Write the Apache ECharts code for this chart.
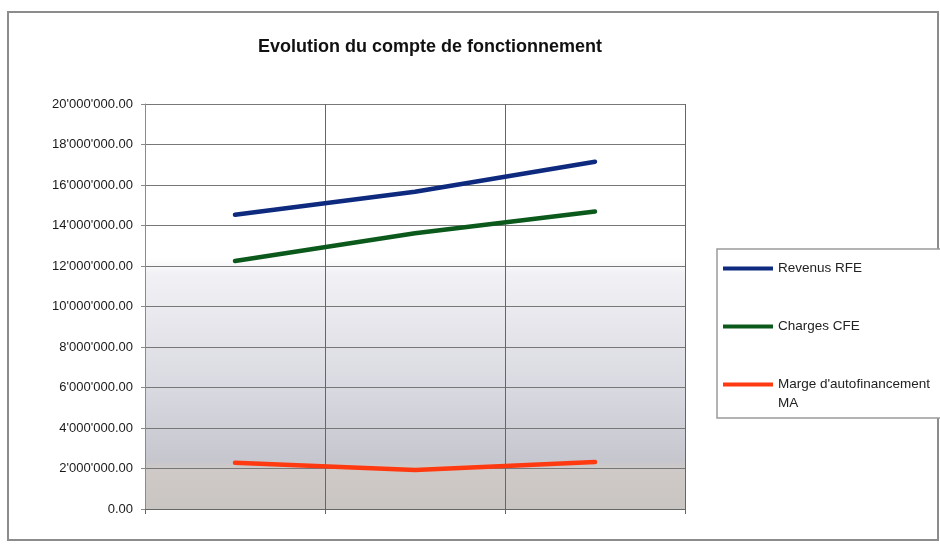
<!DOCTYPE html>
<html>
<head>
<meta charset="utf-8">
<script src="https://cdn.jsdelivr.net/npm/echarts@6/dist/echarts.min.js"></script>
<style>
  html, body { margin: 0; padding: 0; background: #fff; }
  #chart { width: 940px; height: 544px; }
</style>
</head>
<body>
<div id="chart"></div>
<script>
// periods (no labels shown on the axis)
const categories = ["1", "2", "3"];

const revenus = [14530000, 15670000, 17150000];
const charges = [12250000, 13620000, 14690000];
const marge = [2280000, 1920000, 2320000];

const seriesNames = ["Revenus RFE", "Charges CFE", "Marge d'autofinancement MA"];
const seriesColors = ["#0d2a7e", "#0b5a1c", "#ff3a10"];

// 20'000'000.00 style
function fmt(v) {
  const parts = v.toFixed(2).split(".");
  return parts[0].replace(/\B(?=(\d{3})+(?!\d))/g, "'") + "." + parts[1];
}

const chart = echarts.init(document.getElementById("chart"));

const seriesData = [revenus, charges, marge];

chart.setOption({
  animation: false,
  backgroundColor: "#fff",
  textStyle: { fontFamily: "Liberation Sans, Arial, sans-serif" },
  title: {
    text: "Evolution du compte de fonctionnement",
    left: 253,
    top: 33,
    textStyle: { fontSize: 18, fontWeight: "bold", color: "#111" },
  },
  graphic: [
    // outer frame of the chart
    {
      type: "rect",
      shape: { x: 8, y: 12, width: 930, height: 528 },
      style: { fill: "none", stroke: "#8c8c8c", lineWidth: 2 },
      z: -1,
    },
    // legend box
    {
      type: "rect",
      shape: { x: 717, y: 249, width: 230, height: 169 },
      style: { fill: "#fff", stroke: "#9a9a9a", lineWidth: 1.5 },
      z: 0,
    },
    // second line of the third legend entry
    {
      type: "text",
      left: 778,
      top: 396,
      z: 6,
      style: {
        text: "MA",
        fontSize: 13.5,
        fontFamily: "Liberation Sans, Arial, sans-serif",
        fill: "#222",
      },
    },
  ],
  legend: {
    orient: "vertical",
    left: 723,
    top: 261,
    padding: 0,
    itemWidth: 50,
    itemHeight: 4,
    itemGap: 43,
    icon: "rect",
    z: 5,
    formatter: (name) => name.replace(" MA", ""),
    textStyle: { fontSize: 13.5, color: "#222", lineHeight: 15 },
    data: seriesNames,
  },
  grid: {
    left: 145,
    right: 255,
    top: 104,
    bottom: 35,
    show: true,
    borderWidth: 0,
    backgroundColor: {
      type: "linear",
      x: 0, y: 0, x2: 0, y2: 1,
      colorStops: [
        { offset: 0, color: "#ffffff" },
        { offset: 0.38, color: "#ffffff" },
        { offset: 0.42, color: "#f1f1f5" },
        { offset: 0.7, color: "#d9d9e1" },
        { offset: 0.88, color: "#c6c6cf" },
        { offset: 0.9, color: "#cfcac7" },
        { offset: 1, color: "#c9c5c3" },
      ],
    },
  },
  xAxis: {
    type: "category",
    data: categories,
    boundaryGap: true,
    axisLabel: { show: false },
    axisLine: { lineStyle: { color: "#666", width: 1 } },
    axisTick: { show: true, length: 5, lineStyle: { color: "#666" } },
    splitLine: { show: true, lineStyle: { color: "#666", width: 1 } },
  },
  yAxis: {
    type: "value",
    min: 0,
    max: 20000000,
    interval: 2000000,
    axisLine: { show: true, lineStyle: { color: "#8a8a8a", width: 1 } },
    axisTick: { show: true, length: 4, lineStyle: { color: "#8a8a8a" } },
    axisLabel: {
      formatter: fmt,
      fontSize: 13,
      color: "#1a1a1a",
      margin: 12,
    },
    splitLine: { lineStyle: { color: "#777", width: 1 } },
  },
  series: seriesNames.map((name, i) => ({
    name: name,
    type: "line",
    data: seriesData[i],
    symbol: "none",
    color: seriesColors[i],
    lineStyle: { width: 4.5, color: seriesColors[i], cap: "round" },
  })),
});
</script>
</body>
</html>
